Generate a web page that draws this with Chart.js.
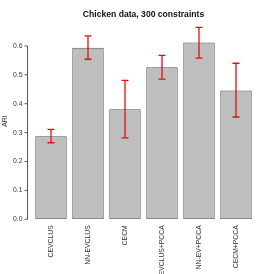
<!DOCTYPE html>
<html>
<head>
<meta charset="utf-8">
<script src="https://cdn.jsdelivr.net/npm/chart.js@4"></script>
<style>
  html, body { margin: 0; padding: 0; background: #fff; }
  canvas { display: block; }
</style>
</head>
<body>
<canvas id="chart" width="274" height="274"></canvas>
<script>
// data
const methods = ["CEVCLUS", "NN-EVCLUS", "CECM", "CEVCLUS+PCCA", "NN-EV+PCCA", "CECM+PCCA"];
const ari = [0.287, 0.594, 0.381, 0.526, 0.612, 0.446];
const ariLow = [0.265, 0.554, 0.282, 0.485, 0.558, 0.354];
const ariHigh = [0.311, 0.635, 0.481, 0.567, 0.664, 0.540];
const yTicks = [0, 0.1, 0.2, 0.3, 0.4, 0.5, 0.6];

const FONT = "'Liberation Sans', Arial, Helvetica, sans-serif";

// red error bars with caps
const errorBars = {
    id: "errorBars",
    afterDatasetsDraw(chart) {
        const ctx = chart.ctx;
        const yScale = chart.scales.y;
        const meta = chart.getDatasetMeta(0);
        ctx.save();
        ctx.strokeStyle = "#dd1111";
        ctx.lineWidth = 1.3;
        for (let i = 0; i < meta.data.length; i++) {
            const x = meta.data[i].x;
            const yHi = yScale.getPixelForValue(ariHigh[i]);
            const yLo = yScale.getPixelForValue(ariLow[i]);
            ctx.beginPath();
            ctx.moveTo(x, yHi);
            ctx.lineTo(x, yLo);
            ctx.moveTo(x - 3.5, yHi);
            ctx.lineTo(x + 3.5, yHi);
            ctx.moveTo(x - 3.5, yLo);
            ctx.lineTo(x + 3.5, yLo);
            ctx.stroke();
        }
        ctx.restore();
    }
};

// R style y axis: line only from first to last tick
const rAxis = {
    id: "rAxis",
    afterDraw(chart) {
        const ctx = chart.ctx;
        const yScale = chart.scales.y;
        const ax = Math.round(chart.chartArea.left - 6) + 0.5;
        const top = yScale.getPixelForValue(yTicks[yTicks.length - 1]);
        const bottom = yScale.getPixelForValue(yTicks[0]);
        ctx.save();
        ctx.strokeStyle = "#555";
        ctx.lineWidth = 1;
        ctx.beginPath();
        ctx.moveTo(ax, top);
        ctx.lineTo(ax, bottom);
        for (let i = 0; i < yTicks.length; i++) {
            const y = yScale.getPixelForValue(yTicks[i]);
            ctx.moveTo(ax, y);
            ctx.lineTo(ax - 3, y);
        }
        ctx.stroke();
        ctx.restore();
    }
};

new Chart(document.getElementById("chart").getContext("2d"), {
    type: "bar",
    data: {
        labels: methods,
        datasets: [{
            data: ari,
            backgroundColor: "#bebebe",
            borderColor: "#505050",
            borderWidth: 1,
            borderSkipped: false,
            barPercentage: 0.85,
            categoryPercentage: 1.0
        }]
    },
    options: {
        responsive: false,
        animation: false,
        devicePixelRatio: 1,
        layout: { padding: { left: 0, right: 19.5, top: 0, bottom: 0 } },
        plugins: {
            legend: { display: false },
            tooltip: { enabled: false },
            title: {
                display: true,
                text: "Chicken data, 300 constraints",
                fullSize: false,
                color: "#111",
                font: { family: FONT, size: 8.6, weight: "bold" },
                padding: { top: 9.6, bottom: 2.9 }
            }
        },
        scales: {
            x: {
                grid: { display: false, drawTicks: false },
                border: { display: false },
                ticks: {
                    autoSkip: false,
                    minRotation: 90,
                    maxRotation: 90,
                    padding: 6,
                    color: "#333",
                    font: { family: FONT, size: 6.8 }
                },
                afterFit(scale) { scale.height = 54.7; }
            },
            y: {
                min: 0,
                max: 0.68,
                grid: { display: false, drawTicks: false },
                border: { display: false },
                afterBuildTicks(scale) {
                    scale.ticks = yTicks.map(v => ({ value: v }));
                },
                ticks: {
                    padding: 10,
                    color: "#333",
                    font: { family: FONT, size: 6.8 },
                    callback: v => v.toFixed(1)
                },
                title: {
                    display: true,
                    text: "ARI",
                    color: "#333",
                    font: { family: FONT, size: 6.8 },
                    padding: 1
                },
                afterFit(scale) { scale.width = 32.5; }
            }
        }
    },
    plugins: [errorBars, rAxis]
});
</script>
</body>
</html>
